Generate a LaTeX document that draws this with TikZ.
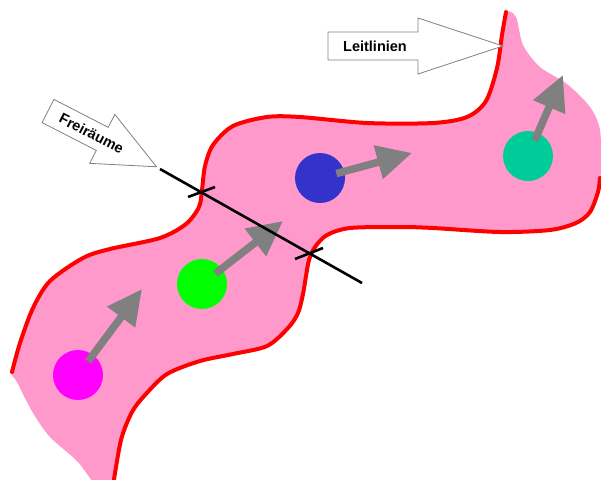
\documentclass[tikz,border=0pt]{standalone}
\usepackage{fontspec}
\newfontfamily\rotulo{Liberation Sans}
\usetikzlibrary{arrows.meta}

\definecolor{rosa}{RGB}{255,153,204}
\definecolor{rojo}{RGB}{255,0,0}
\definecolor{gris}{RGB}{128,128,128}
\definecolor{magenta1}{RGB}{255,0,255}
\definecolor{verde1}{RGB}{0,255,0}
\definecolor{azul1}{RGB}{51,51,204}
\definecolor{turquesa}{RGB}{0,204,153}

\begin{document}
\begin{tikzpicture}[x=1pt, y=-1pt,
        particula/.style={circle, minimum size=50pt, inner sep=0pt},
        flecha/.style={draw=gris, line width=7.5pt, -{Triangle[length=35pt,width=33pt]}, shorten <=17pt},
        borde/.style={draw=rojo, line width=4pt, line cap=round},
        corte/.style={draw=black, line width=2.6pt},
        aviso/.style={draw=gris, fill=white, line width=0.8pt, line join=miter},
        rotulo/.style={inner sep=0pt, font=\rotulo\bfseries\fontsize{14.5}{16}\selectfont}
    ]
        \useasboundingbox (0,0) rectangle (601,479);

        % Zona rosa (el pasillo)
        \fill[rosa] plot[smooth cycle] coordinates {
            (12,372) (20,343) (33,308) (50,281) (83,258) (110,249) (160,238) (186,224)
            (199,207) (202,190) (205,166) (213,145) (233,126) (267,117) (300,117)
            (367,123) (433,123) (467,117) (486,101) (497,68) (502,35) (506,12)
            (516,17) (523,45) (540,67) (567,84) (590,107) (600,130) (601,170)
            (598,192) (590,212) (576,223) (550,230) (500,232) (433,228) (400,227)
            (350,228) (327,235) (315,247) (309,260) (306,276) (303,294) (298,313)
            (288,328) (267,346) (233,354) (200,361) (167,374) (145,395) (132,412)
            (121,440) (113,486) (97,486) (77,461) (50,437) (33,413) (17,382)};

        % Bordes rojos
        \draw[borde] plot[smooth] coordinates {
            (12,372) (20,343) (33,308) (50,281) (83,258) (110,249) (160,238) (186,224)
            (199,207) (202,190) (205,166) (213,145) (233,126) (267,117) (300,117)
            (367,123) (433,123) (467,117) (486,101) (497,68) (502,35) (506,12)};
        \draw[borde] plot[smooth] coordinates {
            (600,178) (598,192) (590,212) (576,223) (550,230) (500,232) (433,228) (400,227)
            (350,228) (327,235) (315,247) (309,260) (306,276) (303,294) (298,313)
            (288,328) (267,346) (233,354) (200,361) (167,374) (145,395) (132,412)
            (121,440) (113,486)};

        % Partículas
        \node[particula, fill=magenta1] (p1) at (78,375) {};
        \node[particula, fill=verde1] (p2) at (202,284) {};
        \node[particula, fill=azul1] (p3) at (320,178) {};
        \node[particula, fill=turquesa] (p4) at (528,156) {};

        \coordinate (t1) at (142,289);
        \coordinate (t2) at (283,221);
        \coordinate (t3) at (412,153);
        \coordinate (t4) at (563,75);

        % Direcciones de movimiento
        \draw[flecha] (p1.center) -- (t1);
        \draw[flecha] (p2.center) -- (t2);
        \draw[flecha] (p3.center) -- (t3);
        \draw[flecha] (p4.center) -- (t4);

        % Línea de corte y marcas
        \coordinate (c1) at (160,169);
        \coordinate (c2) at (362,283);
        \coordinate (m1a) at (188,197);
        \coordinate (m1b) at (215,187);
        \coordinate (m2a) at (295,259);
        \coordinate (m2b) at (323,248);
        \draw[corte] (c1) -- (c2);
        \draw[corte] (m1a) -- (m1b);
        \draw[corte] (m2a) -- (m2b);

        % Flechas de texto
        \draw[aviso] (328,32) -- (418,32) -- (418,18) -- (503,46) -- (418,74) -- (418,60) -- (328,60) -- cycle;
        \node[rotulo] (leit) at (375,46) {Leitlinien};

        \begin{scope}[shift={(48,111)}, rotate=-27.2]
            \draw[aviso] (0,-13) -- (61,-13) -- (61,-27.5) -- (122,0) -- (61,27.5) -- (61,13) -- (0,13) -- cycle;
            \node[rotulo, rotate=-27.2] (frei) at (49,0) {Freiräume};
        \end{scope}
        \end{tikzpicture}
\end{document}
